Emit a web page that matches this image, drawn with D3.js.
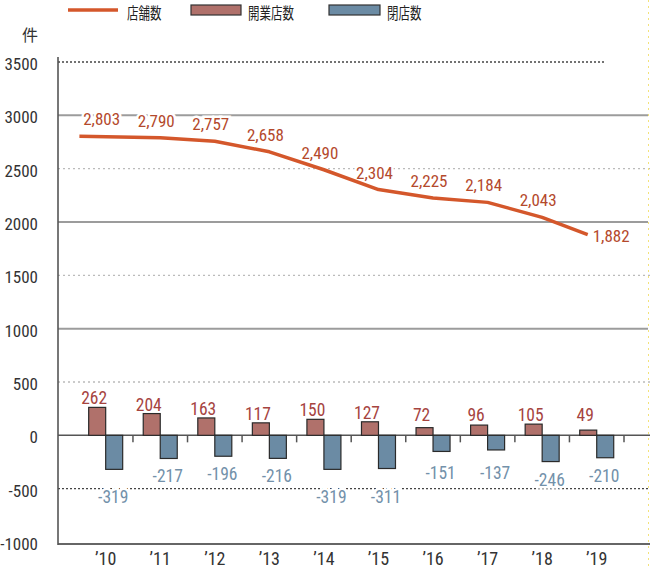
<!DOCTYPE html>
<html>
<head>
<meta charset="utf-8">
<script src="https://cdn.jsdelivr.net/npm/d3@7"></script>
<style>
  html, body { margin: 0; padding: 0; background: #fff; }
  svg { display: block; }
  .num { font-family: 'Liberation Sans Narrow', 'Roboto Condensed', 'Arial Narrow', sans-serif; }
  .jp { font-family: 'Noto Sans CJK JP', sans-serif; }
</style>
</head>
<body>
<svg id="chart" width="650" height="570"></svg>
<script>
const years = ["’10", "’11", "’12", "’13", "’14", "’15", "’16", "’17", "’18", "’19"];
const stores = [2803, 2790, 2757, 2658, 2490, 2304, 2225, 2184, 2043, 1882];
const openings = [262, 204, 163, 117, 150, 127, 72, 96, 105, 49];
const closings = [-319, -217, -196, -216, -319, -311, -151, -137, -246, -210];
const yTicks = [3500, 3000, 2500, 2000, 1500, 1000, 500, 0, -500, -1000];
const legendLabels = ["店舗数", "開業店数", "閉店数"];
const unitLabel = "件";

const C = {
  line: "#d4572b", lineText: "#b4492c",
  pos: "#b0716b", posText: "#a6443f",
  neg: "#6b8ba4", negText: "#7391aa",
  axis: "#555", text: "#333"
};

const svg = d3.select("#chart");
const axisX = 58, rightX = 648;
const y = d3.scaleLinear().domain([-1000, 3500]).range([542, 62]);
const x = d3.scaleBand().domain(years).range([78.4, 624]).paddingInner(0).paddingOuter(0);
const bw = 17;
const cx = d => x(d) + x.bandwidth() / 2;

function gridStyle(t) {
  if (t === 3500) return {stroke: "#444", dash: "2,2", w: 1.3, end: 605};
  if (t === -500) return {stroke: "#444", dash: "2,2", w: 1.3, end: 650};
  if (t === 0) return {stroke: "#555", dash: null, w: 1.5, end: 650};
  if (t === -1000) return {stroke: "#666", dash: null, w: 2, end: 650};
  if (t % 1000 === 0) return {stroke: "#9c9c9c", dash: null, w: 2, end: rightX};
  return {stroke: "#bbb", dash: "2,3", w: 1.3, end: 650};
}
const grid = svg.append("g");
yTicks.forEach(t => {
  const s = gridStyle(t);
  const yy = t === -1000 ? y(t) + 2 : y(t);
  grid.append("line")
    .attr("x1", axisX).attr("x2", s.end)
    .attr("y1", yy).attr("y2", yy)
    .attr("stroke", s.stroke).attr("stroke-width", s.w)
    .attr("stroke-dasharray", s.dash);
});

svg.append("line").attr("x1", 648.5).attr("x2", 648.5).attr("y1", 0).attr("y2", 570)
  .attr("stroke", "#f3e27a").attr("stroke-width", 1).attr("stroke-dasharray", "2,4");

svg.append("line").attr("x1", axisX).attr("x2", axisX).attr("y1", 57).attr("y2", y(-1000) + 3)
  .attr("stroke", C.axis).attr("stroke-width", 1.6);

svg.append("g").selectAll("text").data(yTicks).join("text")
  .attr("class", "num")
  .attr("x", 38).attr("y", d => y(d) + 2)
  .attr("text-anchor", "end").attr("dominant-baseline", "central")
  .attr("font-size", 17).attr("fill", C.text)
  .text(d => d);

svg.append("text").attr("class", "jp").attr("x", 22).attr("y", 41)
  .attr("font-size", 16).attr("fill", C.text).text(unitLabel);

svg.append("g").selectAll("line").data(years).join("line")
  .attr("x1", d => x(d) + x.bandwidth()).attr("x2", d => x(d) + x.bandwidth())
  .attr("y1", y(0)).attr("y2", y(0) + 7)
  .attr("stroke", C.axis).attr("stroke-width", 1.5);

const bars = svg.append("g");
bars.selectAll("rect.pos").data(openings).join("rect").attr("class", "pos")
  .attr("x", (d, i) => cx(years[i]) - bw)
  .attr("y", d => y(d)).attr("width", bw).attr("height", d => y(0) - y(d))
  .attr("fill", C.pos).attr("stroke", "#2a2a2a").attr("stroke-width", 1.2);
bars.selectAll("rect.neg").data(closings).join("rect").attr("class", "neg")
  .attr("x", (d, i) => cx(years[i]))
  .attr("y", y(0)).attr("width", bw).attr("height", d => y(d) - y(0))
  .attr("fill", C.neg).attr("stroke", "#2a2a2a").attr("stroke-width", 1.2);

svg.append("g").selectAll("text").data(openings).join("text")
  .attr("class", "num")
  .attr("x", (d, i) => cx(years[i]) - bw / 2 - 3)
  .attr("y", d => Math.min(y(d) - 3, y(0) - 14))
  .attr("text-anchor", "middle").attr("font-size", 17.5).attr("fill", C.posText)
  .text(d => d);
svg.append("g").selectAll("text").data(closings).join("text")
  .attr("class", "num")
  .attr("x", (d, i) => cx(years[i]) + bw / 2 - 1)
  .attr("y", d => {
    let b = Math.max(y(d) + 24, y(0) + 44);
    if (b > y(-500) - 2) b = y(-500) + 14;
    return b;
  })
  .attr("text-anchor", "middle").attr("font-size", 17.5).attr("fill", C.negText)
  .attr("stroke", "#fff").attr("stroke-width", 5).attr("paint-order", "stroke")
  .text(d => d);

const fmt = d3.format(",");
const last = stores.length - 1;
svg.append("g").selectAll("text").data(stores).join("text")
  .attr("class", "num")
  .attr("x", (d, i) => cx(years[i]) - 4)
  .attr("y", (d, i) => i === last ? y(d) + 7 : y(d) - 11)
  .attr("text-anchor", (d, i) => i === last ? "start" : "middle")
  .attr("font-size", 17).attr("fill", C.lineText)
  .attr("stroke", "#fff").attr("stroke-width", 5).attr("paint-order", "stroke")
  .text(d => fmt(d));

const lineGen = d3.line()
  .x((d, i) => i === 0 ? x(years[i]) + 1 : cx(years[i]) - (i === last ? 9 : 0))
  .y(d => y(d));
svg.append("path").datum(stores)
  .attr("d", lineGen)
  .attr("fill", "none").attr("stroke", C.line).attr("stroke-width", 3.5)
  .attr("stroke-linejoin", "round");

svg.append("g").selectAll("text").data(years).join("text")
  .attr("class", "num")
  .attr("x", d => cx(d)).attr("y", 565)
  .attr("text-anchor", "middle").attr("font-size", 18).attr("fill", C.text)
  .text(d => d);

const lg = svg.append("g");
lg.append("line").attr("x1", 68).attr("x2", 118).attr("y1", 10).attr("y2", 10)
  .attr("stroke", C.line).attr("stroke-width", 3.5);
lg.append("rect").attr("x", 191).attr("y", 5).attr("width", 50).attr("height", 10)
  .attr("fill", C.pos).attr("stroke", "#333").attr("stroke-width", 1.2);
lg.append("rect").attr("x", 329).attr("y", 5).attr("width", 51).attr("height", 10)
  .attr("fill", C.neg).attr("stroke", "#333").attr("stroke-width", 1.2);
const legX = [127, 248, 387];
legendLabels.forEach((t, i) => {
  lg.append("text").attr("class", "jp")
    .attr("transform", `translate(${legX[i]},18.5) scale(0.74,1)`)
    .attr("font-size", 15.5).attr("fill", "#222").text(t);
});
</script>
</body>
</html>
